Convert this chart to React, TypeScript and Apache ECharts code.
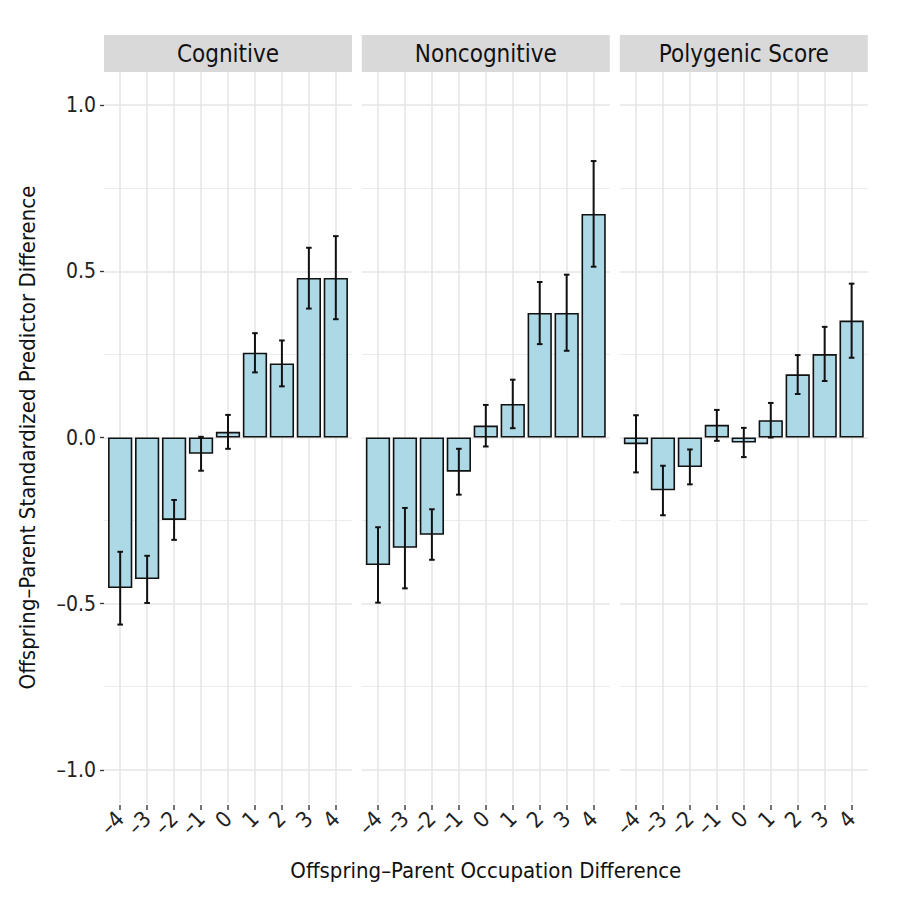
import React, { useEffect, useRef } from "react";
import * as echarts from "echarts";

const categories = [-4, -3, -2, -1, 0, 1, 2, 3, 4];
const evenTicks = [-4, -2, 0, 2, 4];
const oddTicks = [-3, -1, 1, 3];
const panelTitles = ["Cognitive", "Noncognitive", "Polygenic Score"];

const cognitiveMean = [-0.453, -0.426, -0.248, -0.049, 0.017, 0.255, 0.223, 0.48, 0.48];
const cognitiveLow = [-0.563, -0.498, -0.308, -0.1, -0.034, 0.196, 0.154, 0.388, 0.356];
const cognitiveHigh = [-0.344, -0.356, -0.188, 0.002, 0.068, 0.314, 0.292, 0.571, 0.606];

const noncognitiveMean = [-0.384, -0.332, -0.293, -0.103, 0.036, 0.101, 0.375, 0.375, 0.673];
const noncognitiveLow = [-0.497, -0.454, -0.368, -0.172, -0.027, 0.028, 0.281, 0.261, 0.514];
const noncognitiveHigh = [-0.27, -0.212, -0.216, -0.034, 0.098, 0.174, 0.468, 0.49, 0.832];

const polygenicMean = [-0.02, -0.159, -0.089, 0.038, -0.015, 0.052, 0.19, 0.251, 0.352];
const polygenicLow = [-0.105, -0.234, -0.141, -0.01, -0.059, 0.0, 0.131, 0.17, 0.24];
const polygenicHigh = [0.067, -0.085, -0.036, 0.083, 0.029, 0.104, 0.248, 0.333, 0.463];

const yMajorTicks = [-1, -0.5, 0, 0.5, 1];
const yMinorTicks = [-0.75, -0.25, 0.25, 0.75];

const xTitle = "Offspring–Parent Occupation Difference";
const yTitle = "Offspring–Parent Standardized Predictor Difference";

const FONT = "'Liberation Sans Narrow', 'Arial Narrow', 'DejaVu Sans Condensed', sans-serif";

export default function App() {
  const ref = useRef<HTMLDivElement>(null);

  useEffect(() => {
    if (!ref.current) return;
    const chart = echarts.init(ref.current, null, { renderer: "svg" });

    const means = [cognitiveMean, noncognitiveMean, polygenicMean];
    const lows = [cognitiveLow, noncognitiveLow, polygenicLow];
    const highs = [cognitiveHigh, noncognitiveHigh, polygenicHigh];

    const panelLeft = [104, 361.8, 619.8];
    const panelWidth = 248;
    const band = panelWidth / 9.2;
    const top = 72;
    const height = 731;
    const yMin = -1.1;
    const yMax = 1.1;

    const grid: any[] = [];
    const xAxis: any[] = [];
    const yAxis: any[] = [];
    const series: any[] = [];
    const graphic: any[] = [];

    const fmt = (v: number) => (v < 0 ? "–" + Math.abs(v) : String(v));
    const fmtY = (v: number) => (v < 0 ? "–" + Math.abs(v).toFixed(1) : v.toFixed(1));

    const labelAxis = (gridIndex: number, values: number[]) => ({
      type: "value",
      gridIndex,
      position: "bottom",
      offset: 2,
      min: -4,
      max: 4,
      interval: 1,
      axisLine: { show: false, onZero: false },
      axisTick: { show: true, customValues: values, length: 5, lineStyle: { color: "#444", width: 1.5 } },
      splitLine: { show: false },
      axisLabel: {
        customValues: values,
        rotate: 45,
        showMinLabel: true,
        showMaxLabel: true,
        hideOverlap: false,
        fontFamily: FONT,
        fontSize: 22,
        color: "#222",
        margin: 10,
        formatter: (v: number) => fmt(v),
      },
    });

    for (let i = 0; i < 3; i++) {
      const L = panelLeft[i];
      grid.push({ left: L, top, width: panelWidth, height });
      grid.push({ left: L + 0.6 * band, top, width: 8 * band, height });
      const gW = 2 * i;
      const gN = 2 * i + 1;

      xAxis.push({ type: "value", gridIndex: gW, min: 0, max: 1, show: false });
      xAxis.push({
        type: "value",
        gridIndex: gN,
        position: "bottom",
        min: -4,
        max: 4,
        interval: 1,
        axisLine: { show: false, onZero: false },
        axisTick: { show: false },
        splitLine: { show: true, lineStyle: { color: "#e6e6e6", width: 1.6 } },
        axisLabel: { show: false },
        name: i === 1 ? xTitle : "",
        nameLocation: "middle",
        nameGap: 56,
        nameTextStyle: { fontFamily: FONT, fontSize: 22, color: "#111" },
      });
      xAxis.push(labelAxis(gN, evenTicks));
      xAxis.push(labelAxis(gN, oddTicks));

      yAxis.push({
        type: "value",
        gridIndex: gW,
        min: yMin,
        max: yMax,
        axisLine: { show: false },
        axisTick: {
          show: i === 0,
          customValues: yMajorTicks,
          length: 4,
          lineStyle: { color: "#333", width: 1.3 },
        },
        axisLabel: {
          show: i === 0,
          customValues: yMajorTicks,
          fontFamily: FONT,
          fontSize: 21,
          color: "#222",
          margin: 8,
          formatter: (v: number) => fmtY(v),
        },
        splitLine: { show: true, lineStyle: { color: "#e6e6e6", width: 1.6 } },
        name: i === 0 ? yTitle : "",
        nameLocation: "middle",
        nameGap: 66,
        nameTextStyle: { fontFamily: FONT, fontSize: 22, color: "#111" },
      });
      yAxis.push({
        type: "value",
        gridIndex: gW,
        min: yMin,
        max: yMax,
        axisLine: { show: false },
        axisTick: { show: false, customValues: yMinorTicks },
        axisLabel: { show: false, customValues: yMinorTicks },
        splitLine: { show: true, lineStyle: { color: "#ececec", width: 1.2 } },
      });
      yAxis.push({ type: "value", gridIndex: gN, min: yMin, max: yMax, show: false });

      const xN = 4 * i + 1;
      const yN = 3 * i + 2;

      series.push({
        type: "bar",
        xAxisIndex: xN,
        yAxisIndex: yN,
        barWidth: 0.9 * band,
        data: categories.map((c, j) => [c, means[i][j]]),
        itemStyle: { color: "#ADD8E6", borderColor: "#111", borderWidth: 1.6 },
        z: 3,
        silent: true,
      });
      series.push({
        type: "custom",
        xAxisIndex: xN,
        yAxisIndex: yN,
        data: categories.map((c, j) => [c, lows[i][j], highs[i][j]]),
        encode: { x: 0, y: [1, 2] },
        z: 5,
        silent: true,
        renderItem: (params: any, api: any) => {
          const x = api.value(0);
          const p1 = api.coord([x, api.value(2)]);
          const p2 = api.coord([x, api.value(1)]);
          const cap = 2.8;
          const style = { stroke: "#111", lineWidth: 2 };
          return {
            type: "group",
            children: [
              { type: "line", shape: { x1: p1[0], y1: p1[1], x2: p2[0], y2: p2[1] }, style },
              { type: "line", shape: { x1: p1[0] - cap, y1: p1[1], x2: p1[0] + cap, y2: p1[1] }, style },
              { type: "line", shape: { x1: p2[0] - cap, y1: p2[1], x2: p2[0] + cap, y2: p2[1] }, style },
            ],
          };
        },
      });

      graphic.push({
        type: "rect",
        shape: { x: L, y: 35, width: panelWidth, height: 37 },
        style: { fill: "#d9d9d9" },
        silent: true,
      });
      graphic.push({
        type: "text",
        x: L + panelWidth / 2,
        y: 53.5,
        style: {
          text: panelTitles[i],
          fontFamily: FONT,
          fontSize: 24,
          fill: "#111",
          align: "center",
          verticalAlign: "middle",
        },
        silent: true,
      });
    }

    chart.setOption({
      animation: false,
      backgroundColor: "#ffffff",
      grid,
      xAxis,
      yAxis,
      series,
      graphic,
    });

    return () => chart.dispose();
  }, []);

  return (
    <div
      ref={ref}
      style={{ position: "fixed", left: 0, top: 0, width: 900, height: 900 }}
    />
  );
}
